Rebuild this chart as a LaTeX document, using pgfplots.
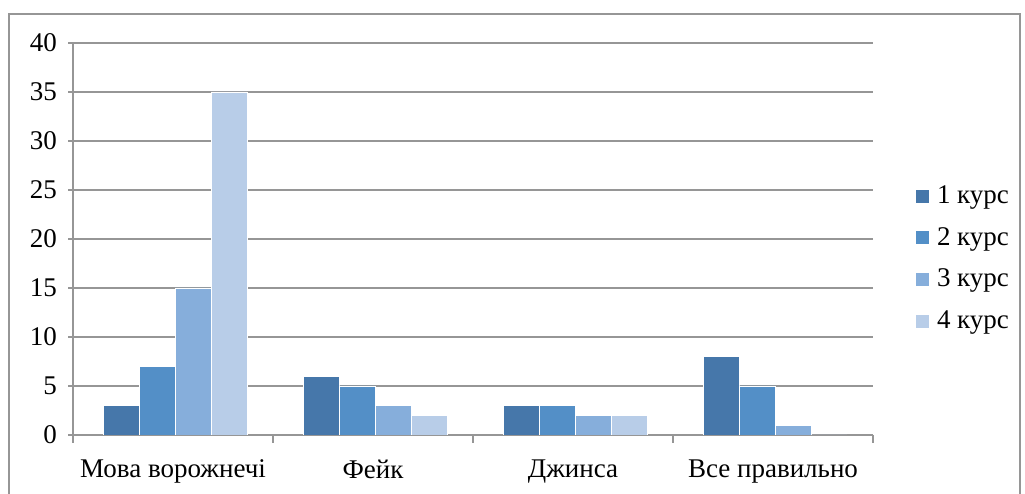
\documentclass[border=0pt]{standalone}
\usepackage{fontspec}
\setmainfont{Liberation Serif}
\usepackage{pgfplots}
\pgfplotsset{compat=1.18}

\definecolor{kursA}{RGB}{70,119,170}
\definecolor{kursB}{RGB}{83,143,199}
\definecolor{kursC}{RGB}{134,174,219}
\definecolor{kursD}{RGB}{184,205,232}
\definecolor{gridgray}{RGB}{150,150,150}

\begin{document}
\begin{tikzpicture}
\begin{axis}[
  name=main,
  scale only axis, width=400pt, height=196pt,
  xmin=-0.5, xmax=3.5, ymin=0, ymax=40,
  ytick={0,5,...,40},
  xtick={0,1,2,3},
  xticklabels={Мова ворожнечі, Фейк, Джинса, Все правильно},
  major x tick style={draw=none},
  minor xtick={-0.5,0.5,1.5,2.5,3.5},
  minor tick length=4pt,
  major tick length=2.5pt,
  tick align=outside,
  axis lines*=left,
  axis line style={gridgray, line width=0.6pt},
  tick style={gridgray, line width=0.6pt},
  ymajorgrids=true,
  grid style={gridgray, line width=0.6pt},
  /pgf/number format/assume math mode=true,
  tick label style={font=\fontsize{13.5}{16}\selectfont},
  xticklabel style={yshift=-6.5pt},
  yticklabel style={xshift=-2pt},
  ybar, bar width=18pt,
  legend style={draw=none, at={(1.045,0.45)}, anchor=west,
    font=\fontsize{13.5}{16}\selectfont, row sep=6.5pt,
    legend cell align=left,
    /tikz/every odd column/.append style={column sep=1.5pt}},
  legend image code/.code={\fill[#1] (0pt,-3.5pt) rectangle (7pt,3.5pt);},
]
\addplot[fill=kursA, draw=white, line width=0.3pt, bar shift=-26pt] coordinates {(0,3) (1,6) (2,3) (3,8)};
\addplot[fill=kursB, draw=white, line width=0.3pt, bar shift=-8pt] coordinates {(0,7) (1,5) (2,3) (3,5)};
\addplot[fill=kursC, draw=white, line width=0.3pt, bar shift=10pt] coordinates {(0,15) (1,3) (2,2) (3,1)};
\addplot[fill=kursD, draw=white, line width=0.3pt, bar shift=28pt] coordinates {(0,35) (1,2) (2,2) (3,0)};
\legend{1 курс, 2 курс, 3 курс, 4 курс}
\end{axis}
\useasboundingbox ([shift={(-36.5pt,-29.5pt)}]main.south west) rectangle ([shift={(76pt,21.5pt)}]main.north east);
\draw[gridgray, line width=0.6pt] ([shift={(-32pt,-31pt)}]main.south west) rectangle ([shift={(73.5pt,14.5pt)}]main.north east);
\end{tikzpicture}
\end{document}
